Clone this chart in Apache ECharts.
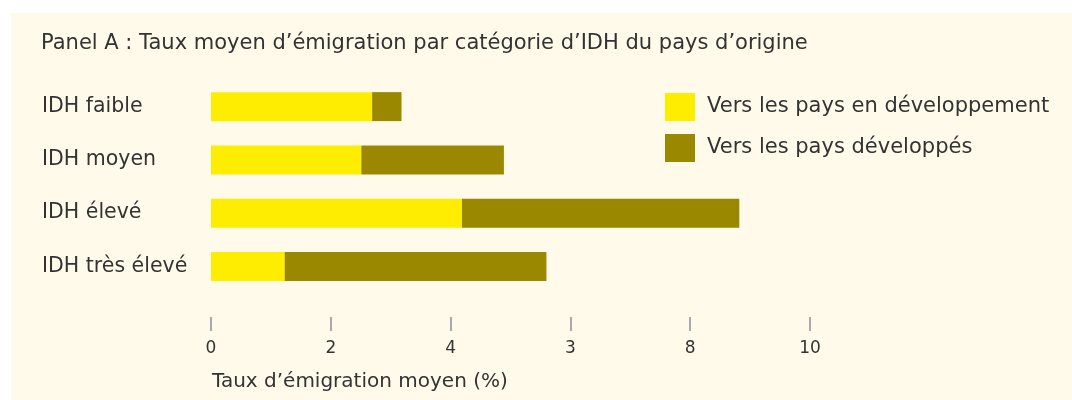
<!DOCTYPE html>
<html>
<head>
<meta charset="utf-8">
<script src="https://cdn.jsdelivr.net/npm/echarts@6/dist/echarts.min.js"></script>
<style>
  html, body { margin: 0; padding: 0; background: #ffffff; }
  #chart { width: 1072px; height: 400px; }
</style>
</head>
<body>
<div id="chart"></div>
<script>
// categories d'IDH, de haut en bas
const categories = ["IDH faible", "IDH moyen", "IDH élevé", "IDH très élevé"];
// taux d'émigration moyen (%)
const versPaysEnDev = [2.69, 2.51, 4.19, 1.23];
const versPaysDev = [0.49, 2.38, 4.63, 4.37];
// graduations telles qu'imprimées
const tickValues = [0, 2, 4, 6, 8, 10];
const tickLabels = ["0", "2", "4", "3", "8", "10"];

const fonte = "DejaVu Sans";
const texte = "#333333";

let myChart = echarts.init(document.getElementById("chart"));

let option = {
  backgroundColor: "#ffffff",
  animation: false,
  textStyle: { fontFamily: fonte },
  graphic: [
    {
      type: "rect",
      z: -10,
      shape: { x: 11, y: 13, width: 1061, height: 387 },
      style: { fill: "#FFFAEA" },
    },
  ],
  title: [
    {
      text: "Panel A : Taux moyen d’émigration par catégorie d’IDH du pays d’origine",
      left: 41,
      top: 33,
      padding: 0,
      textStyle: { fontFamily: fonte, fontSize: 21, fontWeight: "normal", color: texte },
    },
    {
      text: "Taux d’émigration moyen (%)",
      left: 212,
      top: 372,
      padding: 0,
      textStyle: { fontFamily: fonte, fontSize: 20, fontWeight: "normal", color: texte },
    },
  ],
  legend: {
    orient: "vertical",
    left: 665,
    top: 93,
    padding: 0,
    itemWidth: 30,
    itemHeight: 28,
    itemGap: 13,
    icon: "rect",
    selectedMode: false,
    textStyle: { fontFamily: fonte, fontSize: 21, color: texte, padding: [0, 0, 0, 7] },
    data: ["Vers les pays en développement", "Vers les pays développés"],
  },
  grid: {
    left: 211,
    width: 599,
    top: 80,
    height: 213,
    containLabel: false,
  },
  xAxis: {
    type: "value",
    min: 0,
    max: 10,
    interval: 2,
    position: "bottom",
    offset: 24,
    axisLine: { show: false },
    splitLine: { show: false },
    axisTick: { show: true, length: 14, lineStyle: { color: "#8a8f99", width: 1.5 } },
    axisLabel: {
      margin: 23,
      fontFamily: fonte,
      fontSize: 17,
      color: texte,
      formatter: function (v) {
        let i = tickValues.indexOf(v);
        return i >= 0 ? tickLabels[i] : "";
      },
    },
  },
  yAxis: {
    type: "category",
    data: categories,
    inverse: true,
    axisLine: { show: false },
    axisTick: { show: false },
    axisLabel: {
      margin: 169,
      align: "left",
      fontFamily: fonte,
      fontSize: 20.5,
      color: texte,
    },
  },
  series: [
    {
      name: "Vers les pays en développement",
      type: "bar",
      stack: "total",
      barWidth: 29,
      itemStyle: { color: "#FFED00" },
      data: versPaysEnDev,
    },
    {
      name: "Vers les pays développés",
      type: "bar",
      stack: "total",
      barWidth: 29,
      itemStyle: { color: "#998800" },
      data: versPaysDev,
    },
  ],
};
option && myChart.setOption(option);
</script>
</body>
</html>
